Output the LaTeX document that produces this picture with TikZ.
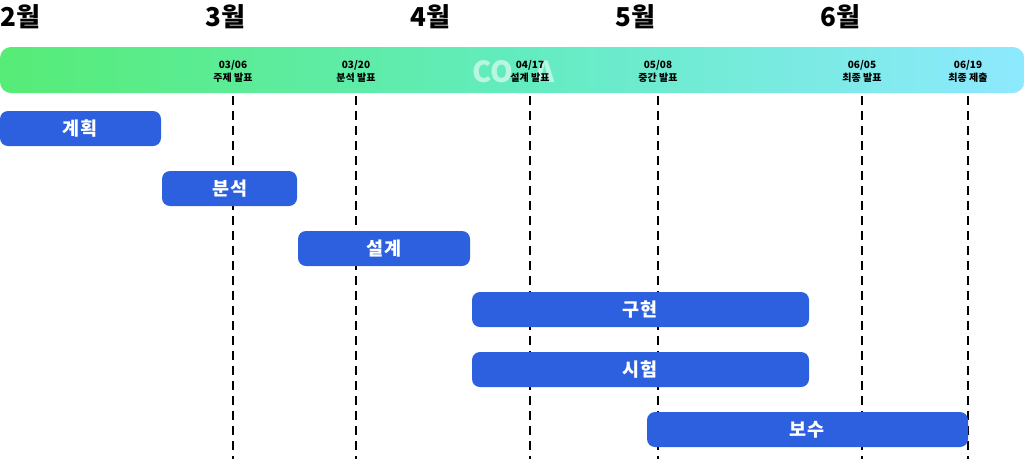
\documentclass[tikz,border=0pt]{standalone}
\usepackage{fontspec}
\setmainfont{Noto Sans CJK KR}
\definecolor{barblue}{RGB}{45,96,222}
\definecolor{gl}{RGB}{86,236,118}
\definecolor{gm}{RGB}{98,236,190}
\definecolor{gr}{RGB}{142,233,255}
\begin{document}
\begin{tikzpicture}[x=1pt,y=-1pt,
  month/.style={anchor=west,font=\fontsize{26}{28}\selectfont\bfseries,inner sep=0pt},
  datelbl/.style={align=center,font=\fontsize{10}{13}\selectfont\bfseries,inner sep=0pt},
  task/.style={fill=barblue,rounded corners=8pt},
  tasklbl/.style={text=white,font=\fontsize{18.5}{19}\selectfont\bfseries,inner sep=0pt},
  wm/.style={anchor=west,inner sep=0pt,text=white,opacity=0.55,font=\fontsize{29}{30}\selectfont\bfseries},
  mile/.style={black,line width=1.6pt,dash pattern=on 9pt off 6pt}]
\useasboundingbox (0,0) rectangle (1024,459);
% gradient bar
\begin{scope}
\clip[rounded corners=11pt] (0,47) rectangle (1024,93);
\shade[left color=gl,right color=gm] (0,47) rectangle (512,93);
\shade[left color=gm,right color=gr] (512,47) rectangle (1024,93);
\end{scope}
\node[wm] (co) at (472,72) {CO};
\node[wm] (ca) at (535,72) {A};
% months
\node[month] (m2) at (0,17) {2월};
\node[month] (m3) at (205,17) {3월};
\node[month] (m4) at (410,17) {4월};
\node[month] (m5) at (615,17) {5월};
\node[month] (m6) at (820,17) {6월};
% milestones
\foreach \n/\x/\d/\t in {a/233/03\slash06/주제 발표, b/356/03\slash20/분석 발표, c/530/04\slash17/설계 발표, d/658/05\slash08/중간 발표, e/862/06\slash05/최종 발표, f/968/06\slash19/최종 제출}{
  \node[datelbl] (d\n) at (\x,71.5) {\d\\\t};
  \coordinate (t\n) at (\x,96);
  \coordinate (b\n) at (\x,459);
  \draw[mile] (t\n) -- (b\n);
}
% tasks
\fill[task] (0,111) rectangle (161,146);
\node[tasklbl] (k1) at (80,129) {계획};
\fill[task] (162,171) rectangle (297,206);
\node[tasklbl] (k2) at (230,189) {분석};
\fill[task] (298,231) rectangle (470,266);
\node[tasklbl] (k3) at (384,249) {설계};
\fill[task] (472,292) rectangle (809,327);
\node[tasklbl] (k4) at (640,310) {구현};
\fill[task] (472,352) rectangle (809,387);
\node[tasklbl] (k5) at (640,370) {시험};
\fill[task] (647,412) rectangle (968,447);
\node[tasklbl] (k6) at (807,430) {보수};
\end{tikzpicture}
\end{document}
